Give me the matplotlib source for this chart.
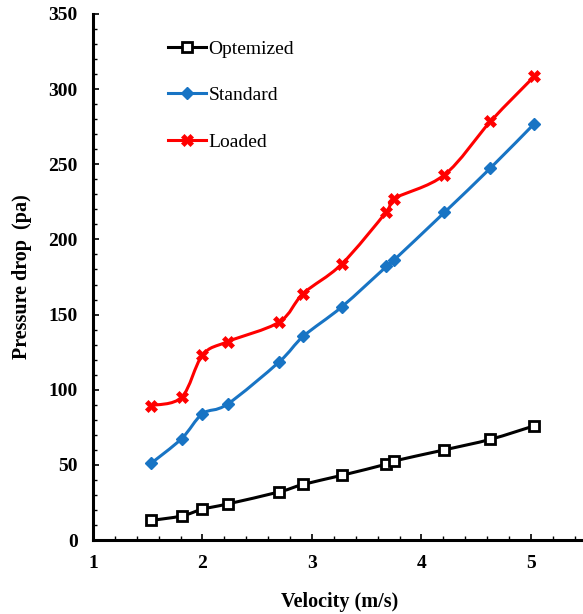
import numpy as np
import matplotlib.pyplot as plt
from matplotlib.path import Path
from matplotlib.patches import PathPatch
from matplotlib.lines import Line2D

# data
velocity = [1.53, 1.81, 2.0, 2.23, 2.70, 2.92, 3.27, 3.68, 3.745, 4.21, 4.63, 5.03]
optemized = [13, 16, 20.5, 24, 32, 37, 43, 50.5, 52.5, 60, 67, 76]
standard = [51, 67.5, 84, 90.5, 118.5, 135.5, 155, 182, 186, 218, 247.5, 277]
loaded = [89.5, 95, 123, 132, 145, 164, 183.5, 218.5, 227, 243, 278.5, 308.5]
names = ['Optemized', 'Standard', 'Loaded']

plt.rcParams['font.family'] = ['Liberation Serif', 'DejaVu Serif']


def smooth_path(x, y):
    # catmull-rom style smoothing like excel "smoothed line"
    pts = np.column_stack([x, y]).astype(float)
    verts = [pts[0]]
    codes = [Path.MOVETO]
    n = len(pts)
    for i in range(n - 1):
        p0 = pts[i - 1] if i > 0 else pts[i]
        p1 = pts[i]
        p2 = pts[i + 1]
        p3 = pts[i + 2] if i + 2 < n else pts[i + 1]
        c1 = p1 + (p2 - p0) / 6.0
        c2 = p2 - (p3 - p1) / 6.0
        verts += [c1, c2, p2]
        codes += [Path.CURVE4] * 3
    return Path(verts, codes)


fig = plt.figure(figsize=(5.83, 6.14), dpi=100)
ax = fig.add_axes([0.1595, 0.1205, 0.8452, 0.8567])

styles = [
    dict(color='black', marker='s', ms=6.5, mfc='white', mec='black', mew=2.0),
    dict(color='#1874c4', marker='D', ms=6, mfc='#1874c4', mec='#1874c4', mew=1),
    dict(color='#ff0000', marker='X', ms=9, mfc='#ff0000', mec='#ff0000', mew=0.5),
]
handles = []
for vals, name, st in zip([optemized, standard, loaded], names, styles):
    p = PathPatch(smooth_path(velocity, vals), facecolor='none', edgecolor=st['color'],
                  lw=2.2, zorder=2)
    ax.add_patch(p)
    ax.plot(velocity, vals, ls='none', marker=st['marker'], ms=st['ms'], mfc=st['mfc'],
            mec=st['mec'], mew=st['mew'], zorder=3)
    handles.append(Line2D([], [], color=st['color'], lw=2.2, marker=st['marker'], ms=st['ms'],
                          mfc=st['mfc'], mec=st['mec'], mew=st['mew']))

ax.set_xlim(1, 5.5)
ax.set_ylim(0, 350)
ax.set_xticks([1, 2, 3, 4, 5])
ax.set_yticks(np.arange(0, 351, 50))
ax.set_xticks(np.arange(1, 5.51, 0.2), minor=True)
ax.set_yticks(np.arange(0, 351, 10), minor=True)

for s in ['top', 'right']:
    ax.spines[s].set_visible(False)
for s in ['left', 'bottom']:
    ax.spines[s].set_linewidth(2.2)

ax.tick_params(which='major', direction='in', length=4.5, width=1.2, pad=11, labelsize=14)
ax.tick_params(which='minor', direction='in', length=3, width=1.0)
for lab in ax.get_xticklabels() + ax.get_yticklabels():
    lab.set_fontweight('bold')

ax.set_xlabel('Velocity (m/s)', fontsize=14.5, fontweight='bold', labelpad=14)
ax.set_ylabel('Pressure drop  (pa)', fontsize=14.5, fontweight='bold', labelpad=12)

ax.legend(handles, names, loc='upper left', bbox_to_anchor=(0.152, 0.950), frameon=False,
          fontsize=14, handlelength=1.95, handletextpad=0.15, labelspacing=1.48, borderpad=0,
          borderaxespad=0)

plt.savefig('out.png', dpi=100)
